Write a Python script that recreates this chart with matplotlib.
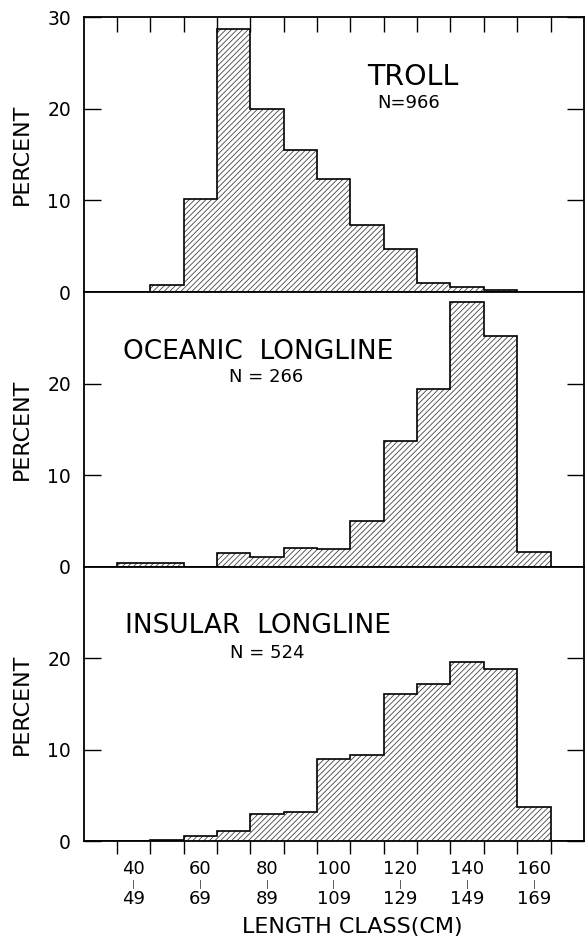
import numpy as np
import matplotlib
matplotlib.use('Agg')
import matplotlib.pyplot as plt
import matplotlib.transforms as mtransforms

plt.rcParams['font.family'] = ['DejaVu Sans']
plt.rcParams['hatch.linewidth'] = 0.6
plt.rcParams['hatch.color'] = '#444444'

# length classes (lower edge of each 10 cm class)
bin_edges = np.arange(30, 190, 10)
bin_lows = bin_edges[:-1]

troll = [0, 0, 0.8, 10.2, 28.7, 20.0, 15.5, 12.3, 7.3, 4.7, 1.0, 0.5, 0.2, 0, 0]
oceanic = [0, 0.4, 0.4, 0, 1.5, 1.1, 2.1, 1.9, 5.0, 13.7, 19.4, 28.9, 25.2, 1.6, 0]
insular = [0, 0, 0.15, 0.6, 1.1, 2.95, 3.2, 9.0, 9.4, 16.1, 17.2, 19.6, 18.8, 3.8, 0]

panel_titles = ['TROLL', 'OCEANIC  LONGLINE', 'INSULAR  LONGLINE']
panel_counts = ['N=966', 'N = 266', 'N = 524']
class_low = [40, 60, 80, 100, 120, 140, 160]
class_high = [49, 69, 89, 109, 129, 149, 169]

fig = plt.figure(figsize=(5.86, 9.36), dpi=100)

left, width = 0.1425, 0.854
height = 0.2935
bottoms = [0.688, 0.3945, 0.101]

series = [troll, oceanic, insular]
title_pos = [(128.7, 23.5), (82.2, 23.5), (82.2, 23.5)]
title_size = [20.5, 19, 19]
count_pos = [(127.5, 20.6), (84.6, 20.7), (85.0, 20.6)]

axes = []
for i, vals in enumerate(series):
    ax = fig.add_axes([left, bottoms[i], width, height])
    axes.append(ax)
    ax.bar(bin_lows, vals, width=10, align='edge', facecolor='none',
           edgecolor='#444444', linewidth=0, hatch='//////')
    ax.stairs(vals, bin_edges, color='black', linewidth=1.2, baseline=0)

    ax.set_xlim(30, 180)
    ax.set_ylim(0, 30)
    for sp in ax.spines.values():
        sp.set_linewidth(1.3)

    if i == 0:
        ax.set_yticks([0, 10, 20, 30])
        ax.set_yticklabels(['0', '10', '20', '30'])
    else:
        ax.set_yticks([0, 10, 20])
        ax.set_yticklabels(['0', '10', '20'])
    ax.tick_params(axis='y', direction='in', length=12, width=1.0,
                   left=True, right=True, labelsize=13.5, pad=9)

    ax.set_xticks(np.arange(40, 180, 10))
    ax.set_xticklabels([])
    if i == 0:
        ax.tick_params(axis='x', top=True, bottom=False, direction='in',
                       length=11, width=1.0)
    elif i == 1:
        ax.tick_params(axis='x', top=False, bottom=False)
    else:
        ax.tick_params(axis='x', top=False, bottom=True, direction='out',
                       length=9.5, width=1.0)

    ax.set_ylabel('PERCENT', fontsize=16, va='center')
    ax.yaxis.set_label_coords(-0.124, 0.5)

    ax.text(title_pos[i][0], title_pos[i][1], panel_titles[i],
            fontsize=title_size[i], ha='center', va='center')
    ax.text(count_pos[i][0], count_pos[i][1], panel_counts[i], fontsize=13,
            ha='center', va='center')

# class labels under the bottom panel
ax = axes[-1]
trans = mtransforms.blended_transform_factory(ax.transData, ax.transAxes)
for lo, hi in zip(class_low, class_high):
    xc = lo + 5
    ax.text(xc, -0.102, str(lo), transform=trans, ha='center', va='center',
            fontsize=13)
    ax.text(xc, -0.1565, '|', transform=trans, ha='center', va='center',
            fontsize=5.5)
    ax.text(xc, -0.211, str(hi), transform=trans, ha='center', va='center',
            fontsize=13)

ax.text(110.5, -0.31, 'LENGTH CLASS(CM)', transform=trans, ha='center',
        va='center', fontsize=16)

fig.savefig('out.png', dpi=100)
